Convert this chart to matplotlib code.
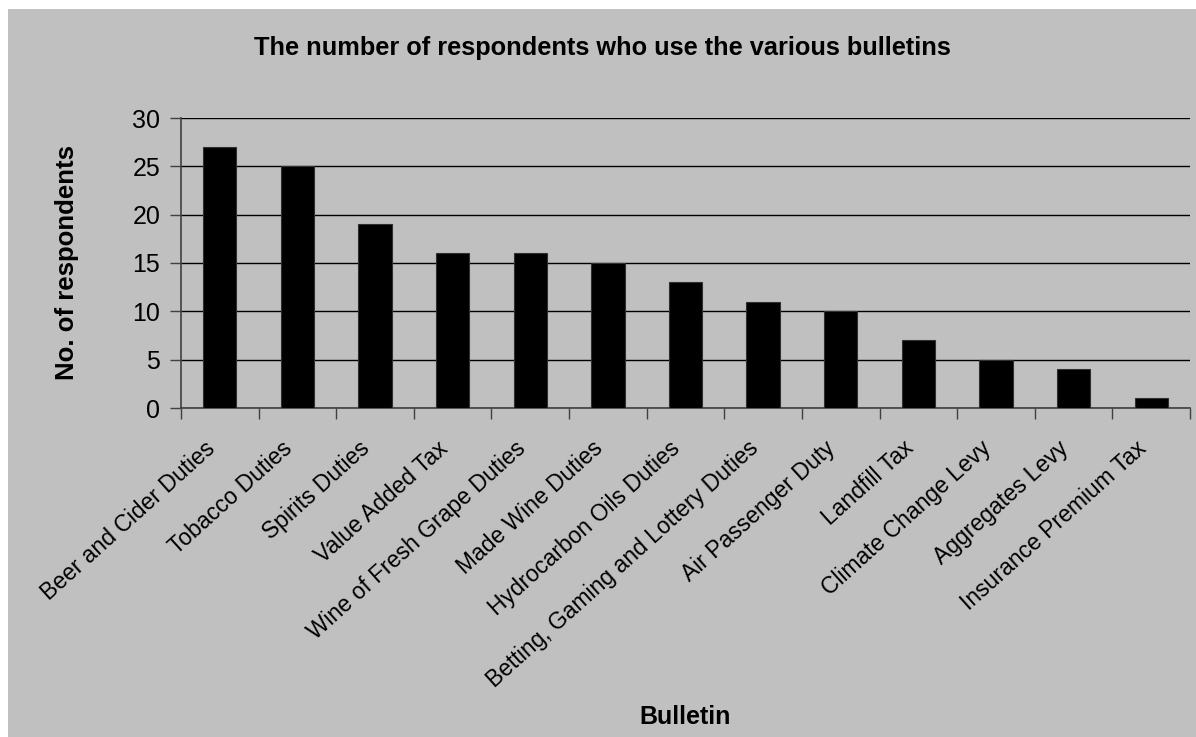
import matplotlib
matplotlib.use("Agg")
import matplotlib.pyplot as plt
import matplotlib.transforms as mtransforms
import numpy as np

plt.rcParams['font.family'] = ['Liberation Sans', 'DejaVu Sans']

# Bulletins and how many respondents use each one
bulletins = ["Beer and Cider Duties", "Tobacco Duties", "Spirits Duties",
             "Value Added Tax", "Wine of Fresh Grape Duties", "Made Wine Duties",
             "Hydrocarbon Oils Duties", "Betting, Gaming and Lottery Duties",
             "Air Passenger Duty", "Landfill Tax", "Climate Change Levy",
             "Aggregates Levy", "Insurance Premium Tax"]
respondents = [27, 25, 19, 16, 16, 15, 13, 11, 10, 7, 5, 4, 1]
y_ticks = [0, 5, 10, 15, 20, 25, 30]

grey = "#c0c0c0"

fig = plt.figure(figsize=(11.96, 7.37), dpi=100)
fig.patch.set_facecolor("white")
# grey chart area, leaving a thin white strip on top and left
fig.patches.append(plt.Rectangle((8 / 1196, 0), 1, 1 - 9 / 737,
                                 transform=fig.transFigure, facecolor=grey,
                                 edgecolor="none", zorder=-10))

ax = fig.add_axes([181 / 1196, 1 - 408 / 737, (1190 - 181) / 1196, (408 - 118) / 737])
ax.set_facecolor(grey)

x = np.arange(len(bulletins))
ax.bar(x, respondents, width=0.43, color="black", edgecolor="#303030",
       linewidth=0.8, zorder=3)

ax.set_xlim(-0.5, len(bulletins) - 0.5)
ax.set_ylim(0, 30)
ax.set_yticks(y_ticks)
ax.yaxis.grid(True, color="black", linewidth=1.0, zorder=0)
ax.set_axisbelow(True)

for side in ["top", "right"]:
    ax.spines[side].set_visible(False)
for side in ["left", "bottom"]:
    ax.spines[side].set_color("#404040")
    ax.spines[side].set_linewidth(1.2)

ax.tick_params(axis="y", length=8, width=1.0, color="#404040",
               labelsize=18, pad=7)
# x ticks sit on category boundaries, labels go under the bars
ax.set_xticks(np.arange(len(bulletins) + 1) - 0.5)
ax.set_xticklabels([])
ax.tick_params(axis="x", length=8, width=1.0, color="#404040")
ax.set_xticks(x, minor=True)
ax.set_xticklabels(bulletins, minor=True, rotation=42, ha="right",
                   va="top", rotation_mode="anchor", fontsize=16.5)
ax.tick_params(axis="x", which="minor", length=0, pad=12)
shift = mtransforms.ScaledTranslation(-0.16, -0.12, fig.dpi_scale_trans)
for lbl in ax.get_xticklabels(minor=True):
    lbl.set_transform(lbl.get_transform() + shift)

ax.set_ylabel("No. of respondents", fontsize=18.5, fontweight="bold", labelpad=38)
fig.text(0.5034, 1 - 48 / 737, "The number of respondents who use the various bulletins",
         ha="center", va="center", fontsize=18.3, fontweight="bold")
fig.text((181 + 1190) / 2 / 1196, 1 - 717 / 737, "Bulletin",
         ha="center", va="center", fontsize=18, fontweight="bold")

fig.savefig("out.png", dpi=100, facecolor=fig.get_facecolor())
